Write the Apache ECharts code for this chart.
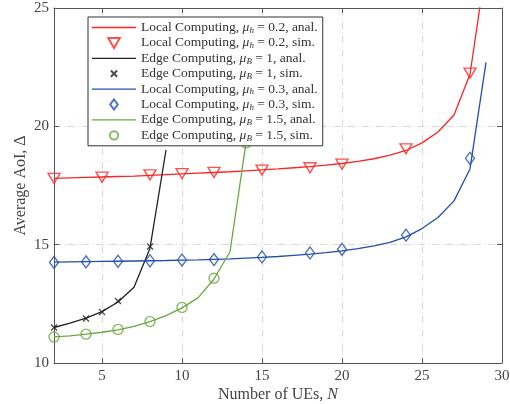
<!DOCTYPE html>
<html><head><meta charset="utf-8">
<script src="https://cdn.jsdelivr.net/npm/echarts@6/dist/echarts.min.js"></script>
<style>html,body{margin:0;padding:0;background:#fff}#c{width:510px;height:404px}</style>
</head><body><div id="c"></div>
<script>
// Analytical curves (N = 2..29 or shorter)
const nAnal = [2,3,4,5,6,7,8,9,10,11,12,13,14,15,16,17,18,19,20,21,22,23,24,25,26,27,28,29];
const localH02Anal = [17.80,17.82,17.84,17.86,17.88,17.90,17.93,17.96,17.99,18.02,18.05,18.08,18.12,18.16,18.20,18.25,18.30,18.36,18.43,18.52,18.63,18.78,18.98,19.30,19.76,20.48,22.20,26.80];
const localH03Anal = [14.26,14.27,14.28,14.29,14.30,14.31,14.32,14.33,14.35,14.36,14.38,14.40,14.43,14.46,14.50,14.55,14.60,14.66,14.74,14.83,14.95,15.10,15.33,15.68,16.15,16.85,18.20,22.70];
const nEdge1Anal = [2,3,4,5,6,7,8,9];
const edgeB1Anal = [11.50,11.68,11.90,12.17,12.58,13.20,14.85,19.00];
const nEdge15Anal = [2,3,4,5,6,7,8,9,10,11,12,13,14];
const edgeB15Anal = [11.10,11.15,11.22,11.30,11.40,11.55,11.75,12.00,12.33,12.75,13.55,14.70,19.30];
// Simulation points
const nLocalH02Sim = [2,5,8,10,12,15,18,20,24,28];
const localH02Sim = [17.80,17.85,17.95,18.00,18.05,18.15,18.25,18.40,19.05,22.25];
const nEdge1Sim = [2,4,5,6,8];
const edgeB1Sim = [11.50,11.88,12.15,12.62,14.92];
const nLocalH03Sim = [2,4,6,8,10,12,15,18,20,24,28];
const localH03Sim = [14.25,14.27,14.30,14.32,14.35,14.37,14.48,14.65,14.80,15.40,18.65];
const nEdge15Sim = [2,4,6,8,10,12,14];
const edgeB15Sim = [11.10,11.22,11.42,11.75,12.35,13.58,19.30];
const xTicks = [5,10,15,20,25,30];
const yTicks = [10,15,20,25];

const names = [
  'Local Computing, mu_h = 0.2, anal.',
  'Local Computing, mu_h = 0.2, sim.',
  'Edge Computing, mu_B = 1, anal.',
  'Edge Computing, mu_B = 1, sim.',
  'Local Computing, mu_h = 0.3, anal.',
  'Local Computing, mu_h = 0.3, sim.',
  'Edge Computing, mu_B = 1.5, anal.',
  'Edge Computing, mu_B = 1.5, sim.'
];
const legendRich = [
  '{n|Local Computing, }{i|μ}{s|h}{n| = 0.2, anal.}',
  '{n|Local Computing, }{i|μ}{s|h}{n| = 0.2, sim.}',
  '{n|Edge Computing, }{i|μ}{s|B}{n| = 1, anal.}',
  '{n|Edge Computing, }{i|μ}{s|B}{n| = 1, sim.}',
  '{n|Local Computing, }{i|μ}{s|h}{n| = 0.3, anal.}',
  '{n|Local Computing, }{i|μ}{s|h}{n| = 0.3, sim.}',
  '{n|Edge Computing, }{i|μ}{s|B}{n| = 1.5, anal.}',
  '{n|Edge Computing, }{i|μ}{s|B}{n| = 1.5, sim.}'
];
const LINE_ICON = 'path://M0,0L44,0L44,1.3L0,1.3Z';
const TRI_DOWN = 'path://M0,0L11,0L5.5,9.5Z';
const DIAMOND = 'path://M4.5,0L9,6L4.5,12L0,6Z';
const CROSS = 'path://M0,0L10,10M10,0L0,10';
const CROSS_LEG = 'path://M-3,-3L-3,-3M0,0L10,10M10,0L0,10M13,13L13,13';
const CIRCLE = 'path://M10,5A5,5,0,1,1,0,5A5,5,0,1,1,10,5Z';
const CIRCLE_LEG = 'path://M-1,-1L-1,-1M10,5A5,5,0,1,1,0,5A5,5,0,1,1,10,5ZM11,11L11,11';
const legendIcons = [LINE_ICON, TRI_DOWN, LINE_ICON, CROSS_LEG, LINE_ICON, DIAMOND, LINE_ICON, CIRCLE_LEG];

const RED = '#ff2424', BLACK = '#222222', BLUE = '#1f4fb0', GREEN = '#6aa83e';
const FONT = 'Liberation Serif';
const zip = (xs, ys) => xs.map((x, i) => [x, ys[i]]);

function lineS(i, xs, ys, color) {
  return { name: names[i], type: 'line', data: zip(xs, ys), symbol: 'none', showSymbol: false,
    lineStyle: { color: color, width: 1.3 }, itemStyle: { color: color }, z: 2, animation: false };
}
function simS(i, xs, ys, color, symbol, size, filled) {
  return { name: names[i], type: 'scatter', data: zip(xs, ys), symbol: symbol, symbolSize: size,
    itemStyle: { color: filled ? color : 'rgba(255,255,255,0)', borderColor: color, borderWidth: 1.4 },
    z: 3, animation: false };
}

const axisCol = '#555';
const chart = echarts.init(document.getElementById('c'));
chart.setOption({
  animation: false,
  backgroundColor: '#fff',
  grid: { left: 54, right: 8, top: 8, bottom: 41, containLabel: false, outerBoundsMode: 'none' },
  legend: {
    orient: 'vertical', left: 88, top: 17, padding: [3, 5, 3, 4], itemGap: 0.4,
    itemWidth: 44, itemHeight: 10, backgroundColor: '#fff', borderColor: '#333', borderWidth: 1,
    data: names.map((n, i) => ({ name: n, icon: legendIcons[i] })), z: 10,
    formatter: function (n) { return legendRich[names.indexOf(n)]; },
    textStyle: {
      fontFamily: FONT, fontSize: 13.5, color: '#333',
      rich: {
        n: { fontFamily: FONT, fontSize: 13.5, color: '#333', lineHeight: 14 },
        i: { fontFamily: FONT, fontSize: 13.5, fontStyle: 'italic', color: '#333', lineHeight: 14 },
        s: { fontFamily: FONT, fontSize: 9, fontStyle: 'italic', color: '#333', lineHeight: 8, padding: [6, 0, 0, 0] }
      }
    }
  },
  xAxis: [{
    type: 'value', min: 2, max: 30, position: 'bottom',
    name: '{a|Number of UEs, }{b|N}', nameLocation: 'middle', nameGap: 24, nameMoveOverlap: false,
    nameTextStyle: { rich: { a: { fontFamily: FONT, fontSize: 16, color: '#444' }, b: { fontFamily: FONT, fontSize: 16, fontStyle: 'italic', color: '#444' } } },
    axisLine: { show: true, onZero: false, lineStyle: { color: axisCol, width: 1 } },
    axisTick: { show: true, inside: true, length: 5, customValues: xTicks, lineStyle: { color: axisCol } },
    axisLabel: { customValues: xTicks, fontFamily: FONT, fontSize: 15, color: '#444', margin: 6 },
    splitLine: { show: true, lineStyle: { color: '#d8d8d8', width: 1, type: [7, 3, 1, 3] } }
  }, {
    type: 'value', min: 2, max: 30, position: 'top',
    axisLine: { show: true, onZero: false, lineStyle: { color: axisCol, width: 1 } },
    axisTick: { show: true, inside: true, length: 5, customValues: xTicks, lineStyle: { color: axisCol } },
    axisLabel: { show: false }, splitLine: { show: false }
  }],
  yAxis: [{
    type: 'value', min: 10, max: 25, interval: 5, position: 'left',
    name: 'Average AoI, Δ', nameLocation: 'middle', nameGap: 25, nameMoveOverlap: false,
    nameTextStyle: { fontFamily: FONT, fontSize: 16, color: '#444' },
    axisLine: { show: true, onZero: false, lineStyle: { color: axisCol, width: 1 } },
    axisTick: { show: true, inside: true, length: 5, customValues: yTicks, lineStyle: { color: axisCol } },
    axisLabel: { customValues: yTicks, fontFamily: FONT, fontSize: 15, color: '#444', margin: 5 },
    splitLine: { show: true, lineStyle: { color: '#d8d8d8', width: 1, type: [7, 3, 1, 3] } }
  }, {
    type: 'value', min: 10, max: 25, interval: 5, position: 'right',
    axisLine: { show: true, onZero: false, lineStyle: { color: axisCol, width: 1 } },
    axisTick: { show: true, inside: true, length: 5, lineStyle: { color: axisCol } },
    axisLabel: { show: false }, splitLine: { show: false }
  }],
  series: [
    lineS(0, nAnal, localH02Anal, RED),
    simS(1, nLocalH02Sim, localH02Sim, RED, TRI_DOWN, [12, 10], false),
    lineS(2, nEdge1Anal, edgeB1Anal, BLACK),
    simS(3, nEdge1Sim, edgeB1Sim, BLACK, CROSS, 6, true),
    lineS(4, nAnal, localH03Anal, BLUE),
    simS(5, nLocalH03Sim, localH03Sim, BLUE, DIAMOND, [9, 12], false),
    lineS(6, nEdge15Anal, edgeB15Anal, GREEN),
    simS(7, nEdge15Sim, edgeB15Sim, GREEN, CIRCLE, 10, false)
  ]
});
</script></body></html>
